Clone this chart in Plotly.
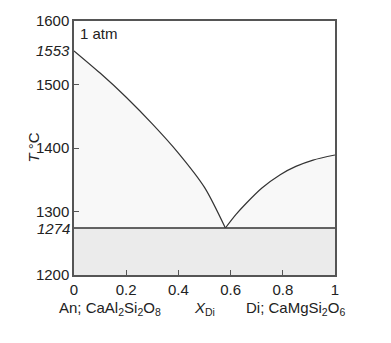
import plotly.graph_objects as go

# Liquidus data (X_Di, T in °C): An branch and Di branch meeting at the eutectic
left_x = [0.0, 0.1, 0.2, 0.3, 0.4, 0.5, 0.58]
left_t = [1553, 1518, 1480, 1438, 1392, 1338, 1274]
right_x = [0.58, 0.62, 0.66, 0.72, 0.79, 0.85, 0.916, 1.0]
right_t = [1274, 1295, 1313, 1337, 1358, 1371, 1381, 1389]
sol_x = [0.0, 1.0]
sol_t = [1274, 1274]

x_ticks = [0, 0.2, 0.4, 0.6, 0.8, 1]
x_ticklabels = ["0", "0.2", "0.4", "0.6", "0.8", "1"]
y_ticks = [1200, 1300, 1400, 1500, 1600]
y_ticklabels = ["1200", "1300", "1400", "1500", "1600"]
extra_ticks = [1274, 1553]
extra_labels = ["<i>1274</i>", "<i>1553</i>"]

font = "Liberation Sans, Arial, sans-serif"
fig = go.Figure()
for xs, ts in [(left_x, left_t), (right_x, right_t)]:
    fig.add_trace(go.Scatter(x=xs, y=ts, mode="lines",
                             line=dict(color="#333333", width=1.2, shape="spline", smoothing=0.8),
                             fill="tozeroy", fillcolor="#f8f8f8", hoverinfo="skip"))
fig.add_trace(go.Scatter(x=sol_x, y=sol_t, mode="lines", line=dict(color="#333333", width=1.5),
                         fill="tozeroy", fillcolor="#ebebeb", hoverinfo="skip"))

ann = [
    dict(text="1 atm", x=0.015, y=1597, xref="x", yref="y", showarrow=False,
         xanchor="left", yanchor="top", font=dict(size=15)),
    dict(text="<i>T</i> °C", x=(22 - 74) / 261, y=(275 - 145) / 260, xref="paper", yref="paper",
         showarrow=False, textangle=-90, font=dict(size=15)),
    dict(text="An; CaAl<sub>2</sub>Si<sub>2</sub>O<sub>8</sub>", x=(57 - 74) / 261, y=-0.085,
         xref="paper", yref="paper", showarrow=False, xanchor="left", yanchor="top", font=dict(size=15)),
    dict(text="<i>X</i><sub>Di</sub>", x=(204 - 74) / 261, y=-0.085, xref="paper", yref="paper",
         showarrow=False, xanchor="center", yanchor="top", font=dict(size=15)),
    dict(text="Di; CaMgSi<sub>2</sub>O<sub>6</sub>", x=(244 - 74) / 261, y=-0.085, xref="paper", yref="paper",
         showarrow=False, xanchor="left", yanchor="top", font=dict(size=15)),
]
for v, lab in zip(extra_ticks, extra_labels):
    ann.append(dict(text=lab, x=0, y=v, xref="paper", yref="y", showarrow=False,
                    xanchor="right", yanchor="middle", xshift=-2, font=dict(size=15)))

fig.update_layout(
    width=391, height=343, showlegend=False,
    margin=dict(l=74, r=56, t=15, b=68),
    paper_bgcolor="white", plot_bgcolor="white",
    font=dict(family=font, size=15, color="#222222"),
    xaxis=dict(range=[0, 1], tickvals=x_ticks, ticktext=x_ticklabels, ticks="inside", ticklen=5,
               tickcolor="#555555", showline=True, linecolor="#555555", linewidth=1.5, mirror=True,
               showgrid=False, zeroline=False, tickfont=dict(size=15)),
    yaxis=dict(range=[1200, 1600], tickvals=y_ticks, ticktext=y_ticklabels, ticks="inside", ticklen=5,
               tickcolor="#555555", showline=True, linecolor="#555555", linewidth=1.5, mirror=True,
               showgrid=False, zeroline=False, tickfont=dict(size=15)),
    annotations=ann,
)
fig.write_html("out.html")
